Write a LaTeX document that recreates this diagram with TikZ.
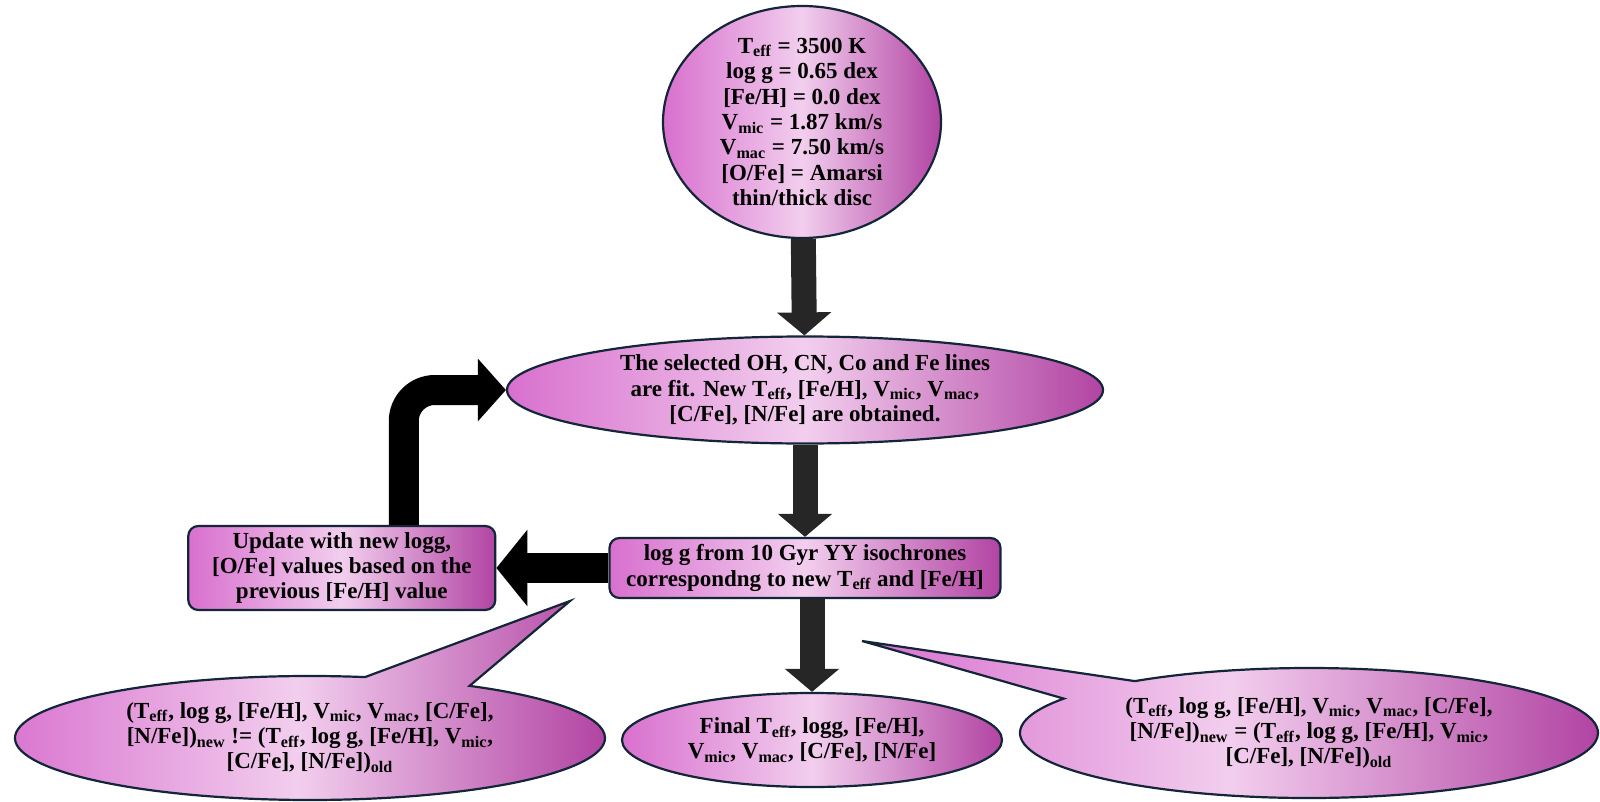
\documentclass[tikz,border=0pt]{standalone}
\usepackage{fontspec}
\setmainfont{Liberation Serif}
\usepackage{tikz}
\usetikzlibrary{positioning,shapes.geometric,shapes.callouts,arrows.meta}
\definecolor{orchid}{RGB}{216,112,206}
\definecolor{blush}{RGB}{242,206,238}
\definecolor{plum}{RGB}{178,68,163}
\definecolor{navy}{RGB}{18,38,56}
\definecolor{arrowgray}{RGB}{38,38,38}
\newcommand{\Teff}{T\textsubscript{eff}}
\newcommand{\Vmic}{V\textsubscript{mic}}
\newcommand{\Vmac}{V\textsubscript{mac}}
\tikzset{basic/.style={draw=navy,line width=1.1pt,left color=orchid,right color=plum,middle color=blush,align=center,font=\bfseries\fontsize{11.5}{12.7}\selectfont}}
\tikzset{oval/.style={basic,ellipse,inner sep=-10pt}}
\tikzset{flowbox/.style={basic,rectangle,rounded corners=5pt,inner sep=0pt}}
\tikzset{bubble/.style={basic,ellipse callout,inner sep=-10pt}}
\tikzset{fatarrow/.style={line width=12.5pt,draw=arrowgray,-{Triangle[length=11.5pt,width=26.5pt]}}}
\tikzset{blackarrow/.style={line width=15pt,draw=black,-{Triangle[length=14pt,width=30.5pt]}}}

\begin{document}
\begin{tikzpicture}[x=0.5pt,y=-0.5pt]
        \useasboundingbox (0,0) rectangle (1600,802);
        \coordinate (lefttip) at (570,601);
        \coordinate (righttip) at (862,641);
        \node[bubble,callout absolute pointer={(lefttip)},callout pointer arc=22,minimum width=295pt,minimum height=62pt] (neq) at (310,738)
            {(\Teff, log g, [Fe/H], \Vmic, \Vmac, [C/Fe],\\{}[N/Fe])\textsubscript{new} != (\Teff, log g, [Fe/H], \Vmic,\\{}[C/Fe], [N/Fe])\textsubscript{old}};
        \node[bubble,callout absolute pointer={(righttip)},callout pointer arc=21,minimum width=289pt,minimum height=65pt] (eq) at (1309,733)
            {(\Teff, log g, [Fe/H], \Vmic, \Vmac, [C/Fe],\\{}[N/Fe])\textsubscript{new} = (\Teff, log g, [Fe/H], \Vmic,\\{}[C/Fe], [N/Fe])\textsubscript{old}};
        \node[oval,minimum width=139pt,minimum height=116pt] (start) at (802,122)
            {\Teff{} = 3500 K\\ log g = 0.65 dex\\{}[Fe/H] = 0.0 dex\\ \Vmic{} = 1.87 km/s\\ \Vmac{} = 7.50 km/s\\{}[O/Fe] = Amarsi\\ thin/thick disc};
        \node[oval,minimum width=298pt,minimum height=53.5pt] (fit) at (805,390)
            {The selected OH, CN, Co and Fe lines\\ are fit. New \Teff, [Fe/H], \Vmic, \Vmac,\\{}[C/Fe], [N/Fe] are obtained.};
        \node[flowbox,minimum width=195.5pt,minimum height=30pt] (iso) at (805,568)
            {log g from 10 Gyr YY isochrones\\ correspondng to new \Teff{} and [Fe/H]};
        \node[flowbox,minimum width=153.5pt,minimum height=42pt,left=56pt of iso] (update)
            {Update with new logg,\\{}[O/Fe] values based on the\\ previous [Fe/H] value};
        \node[oval,minimum width=190pt,minimum height=47pt] (final) at (812,740)
            {Final \Teff, logg, [Fe/H],\\ \Vmic, \Vmac, [C/Fe], [N/Fe]};
            \path[fatarrow] (start) -- (fit);
            \path[fatarrow] (fit) -- (iso);
            \path[fatarrow] (iso.south -| final.north) -- (final.north);
            \path[blackarrow,-{Triangle[length=15.5pt,width=37.5pt]}] (iso) -- (update);
            \path[blackarrow,rounded corners=15.5pt] ([xshift=31pt]update.north) |- (fit.west);
    \end{tikzpicture}
\end{document}
